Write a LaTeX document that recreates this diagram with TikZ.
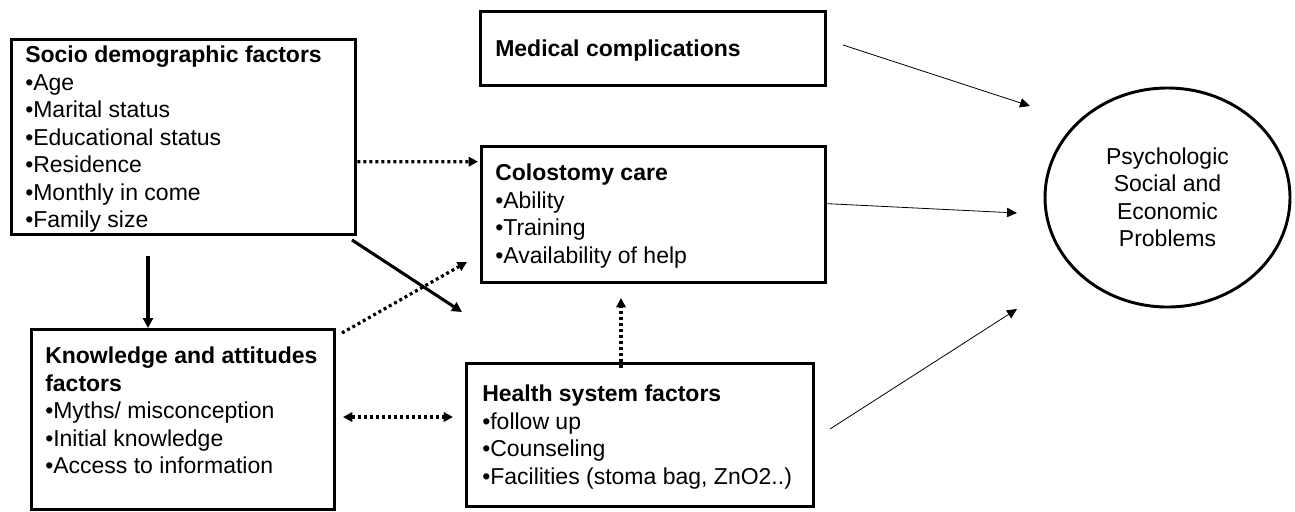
\documentclass[tikz,border=0pt]{standalone}
\usepackage{fontspec}
\setmainfont{Liberation Sans}
\usepackage{tikz}
\usetikzlibrary{arrows.meta, positioning, shapes.geometric}

\begin{document}
\begin{tikzpicture}[
    x=0.75pt, y=-0.75pt,
    font=\fontsize{17.25}{20.6}\selectfont,
    box/.style={rectangle, draw, line width=2.5pt, anchor=north west},
    txt/.style={anchor=north west, align=left, inner sep=0pt},
    goal/.style={ellipse, draw, line width=2.2pt, align=center, inner sep=0pt},
    arr/.style={-{Triangle[length=7.5pt, width=7pt]}, line width=0.6pt},
    heavy/.style={-{Triangle[length=7.5pt, width=7.5pt]}, line width=2.3pt},
    dotarr/.style={-{Triangle[length=7pt, width=7pt]}, line width=2.4pt,
                   dash pattern=on 2.2pt off 2.3pt},
    dotboth/.style={dotarr, {Triangle[length=7pt, width=7pt]}-{Triangle[length=7pt, width=7pt]}},
]
\useasboundingbox (0,0) rectangle (1295,511);

% Factor boxes
\node[box, minimum width=258pt, minimum height=146.25pt] (socio) at (10,38) {};
\node[box, minimum width=258.75pt, minimum height=55.5pt] (medical) at (479,10) {};
\node[box, minimum width=258pt, minimum height=102pt] (colo) at (480,145) {};
\node[box, minimum width=227.25pt, minimum height=135pt] (know) at (30,328) {};
\node[box, minimum width=260.25pt, minimum height=107.25pt] (health) at (465,362) {};

% Outcome
\node[goal, minimum width=183.75pt, minimum height=164.25pt] (psy) at (1167.5,197.5)
    {Psychologic\\Social and\\Economic\\Problems};

% Box texts
\node[txt] (sociotxt) at ([shift={(15,8)}]socio.north west)
    {\textbf{Socio demographic factors}\\•Age\\•Marital status\\•Educational status\\•Residence\\•Monthly in come\\•Family size};
\node[txt] (medtxt) at ([shift={(16,30)}]medical.north west)
    {\textbf{Medical complications}};
\node[txt] (colotxt) at ([shift={(15,19)}]colo.north west)
    {\textbf{Colostomy care}\\•Ability\\•Training\\•Availability of help};
\node[txt] (knowtxt) at ([shift={(15,19)}]know.north west)
    {\textbf{Knowledge and attitudes}\\\textbf{factors}\\•Myths/ misconception\\•Initial knowledge\\•Access to information};
\node[txt] (healthtxt) at ([shift={(17,23)}]health.north west)
    {\textbf{Health system factors}\\•follow up\\•Counseling\\•Facilities (stoma bag, ZnO2..)};

% Arrow ends
\coordinate (k0) at (148,256);
\coordinate (d0) at (352,240); \coordinate (d1) at (462,312);
\coordinate (e0) at (342,333); \coordinate (e1) at (467,262);
\coordinate (v0) at (621,368); \coordinate (v1) at (621,298);
\coordinate (w0) at (343,417); \coordinate (w1) at (453,417);
\coordinate (m0) at (843,45);  \coordinate (m1) at (1030,106);
\coordinate (c1) at (1017,213);
\coordinate (h0) at (830,429); \coordinate (h1) at (1017,309);

% Connections
\draw[dotarr, shorten >=1.5pt] ([yshift=-18.4pt]socio.east) -- ([yshift=39.75pt]colo.west);
\draw[heavy] (k0) -- (k0 |- know.north);
\draw[heavy] (d0) -- (d1);
\draw[dotarr] (e0) -- (e1);
\draw[dotarr] (v0) -- (v1);
\draw[dotboth] (w0) -- (w1);

% To the outcome
\draw[arr] (m0) -- (m1);
\draw[arr] ([yshift=8.25pt]colo.east) -- (c1);
\draw[arr] (h0) -- (h1);

\end{tikzpicture}
\end{document}
